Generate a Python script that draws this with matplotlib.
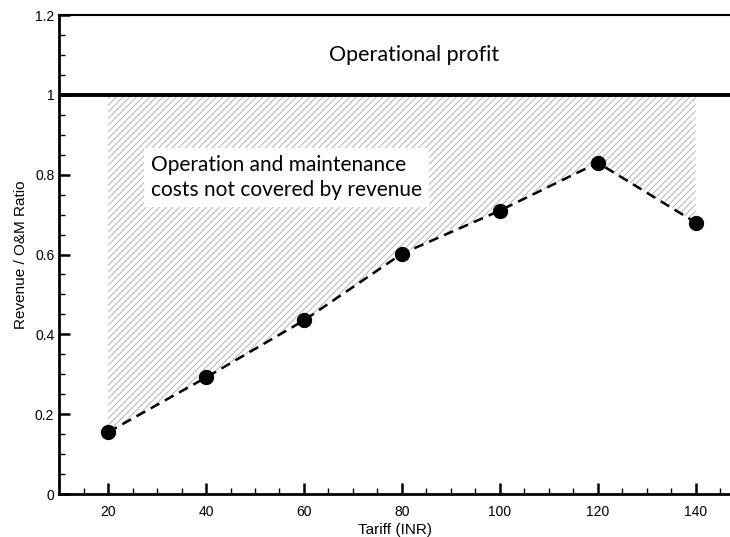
import numpy as np
import matplotlib.pyplot as plt
from matplotlib.ticker import MultipleLocator, FormatStrFormatter

tariff = [20, 40, 60, 80, 100, 120, 140]
ratio = [0.155, 0.292, 0.435, 0.602, 0.710, 0.830, 0.680]

plt.rcParams['font.family'] = ['Liberation Sans', 'DejaVu Sans']
plt.rcParams['hatch.color'] = '#b4b4b4'
plt.rcParams['hatch.linewidth'] = 0.7

fig = plt.figure(figsize=(7.3, 5.37), dpi=100)
ax = fig.add_axes([0.081, 0.080, 0.919, 0.892])

ax.fill_between(tariff, ratio, 1.0, facecolor='none', edgecolor='#b4b4b4',
                hatch='/////', linewidth=0)
ax.axhline(1.0, color='black', lw=2.8)
ax.plot(tariff, ratio, 'k--', lw=1.8, dashes=(4, 2.5), marker='o', ms=10)

ax.text(82.5, 1.1, 'Operational profit', ha='center', va='center', fontsize=15.5,
        family=['Lato', 'DejaVu Sans'])
ax.text(28.7, 0.793, 'Operation and maintenance\ncosts not covered by revenue',
        ha='left', va='center', fontsize=15, family=['Lato', 'DejaVu Sans'],
        linespacing=1.3,
        bbox=dict(facecolor='white', edgecolor='none', pad=5))

ax.set_xlim(10, 147)
ax.set_ylim(0, 1.2)
ax.set_xticks(tariff)
ax.xaxis.set_minor_locator(MultipleLocator(5))
ax.yaxis.set_major_locator(MultipleLocator(0.2))
ax.yaxis.set_minor_locator(MultipleLocator(0.05))
ax.yaxis.set_major_formatter(FormatStrFormatter('%g'))
ax.tick_params(which='both', direction='in', labelsize=10)
ax.tick_params(which='major', length=8, width=1.8)
ax.tick_params(which='minor', length=4, width=1)
ax.tick_params(axis='x', pad=8)
ax.tick_params(top=False, right=False, which='both')

ax.spines['right'].set_visible(False)
ax.spines['left'].set_linewidth(2)
ax.spines['bottom'].set_linewidth(2)
ax.spines['top'].set_linewidth(1.5)

ax.set_xlabel('Tariff (INR)', fontsize=11, labelpad=3)
ax.set_ylabel('Revenue / O&M Ratio', fontsize=11, labelpad=5)

plt.savefig('out.png')
